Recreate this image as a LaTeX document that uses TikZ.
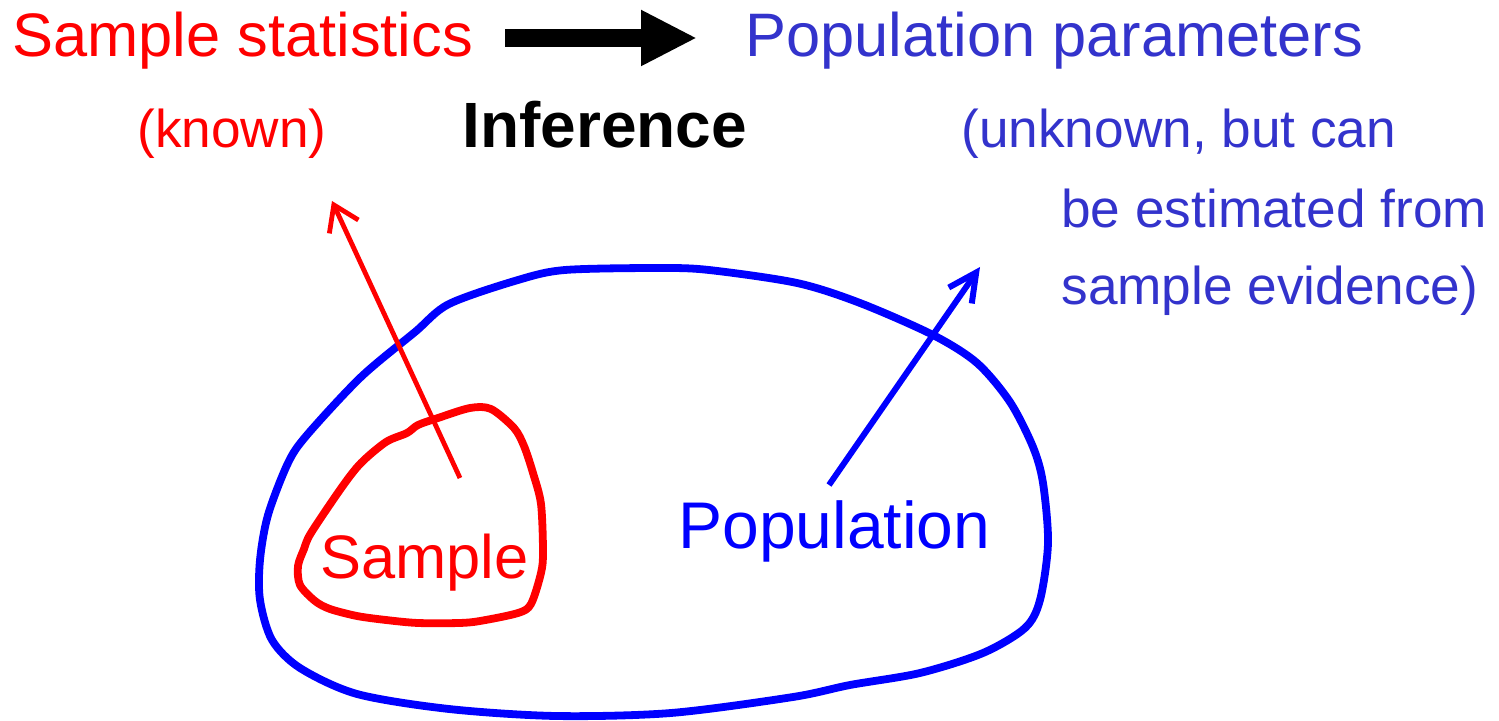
\documentclass[tikz,border=0pt]{standalone}
\usepackage{fontspec}
\setmainfont{Liberation Sans}
\usetikzlibrary{arrows.meta}
\definecolor{pred}{RGB}{255,0,0}
\definecolor{pblue}{RGB}{0,0,255}
\definecolor{tblue}{RGB}{51,51,204}
\tikzset{
  lbl/.style={inner sep=0pt, anchor=base west},
  big/.style={font=\fontsize{30.7}{36}\selectfont},
  mid/.style={font=\fontsize{26.6}{31}\selectfont},
  blobline/.style={line width=3.9pt, line join=round},
  redarrow/.style={draw=pred, line width=2.4pt, -{Straight Barb[length=12pt,width=16pt]}},
  bluearrow/.style={draw=pblue, line width=3pt, -{Straight Barb[length=14pt,width=14pt]}},
  fatarrow/.style={draw=black, line width=9pt, -{Triangle[length=28pt,width=26pt]}}
}
\begin{document}
\begin{tikzpicture}[x=0.5pt, y=-0.5pt]
\useasboundingbox (0,0) rectangle (1499,721);
% texts
\node[lbl, big, text=pred] (stats) at (12,57) {Sample statistics};
\node[lbl, big, text=tblue] (params) at (745,57) {Population parameters};
\node[lbl, mid, text=pred] (known) at (137,148) {(known)};
\node[lbl, font=\fontsize{32}{38}\selectfont\bfseries] (inf) at (462,148) {Inference};
\node[lbl, mid, text=tblue] (unk1) at (961,148) {(unknown, but can};
\node[lbl, mid, text=tblue] (unk2) at (1061,228) {be estimated from};
\node[lbl, mid, text=tblue] (unk3) at (1061,305) {sample evidence)};
% fat arrow
\coordinate (fa0) at (505,38);
\coordinate (fa1) at (697,38);
\draw[fatarrow] (fa0) -- (fa1);
% population blob
\draw[pblue, blobline] plot[smooth cycle, tension=0.5] coordinates {
(565,270) (659,268) (709,270) (797,283) (860,303) (933,335) (977,363) (1010,402) (1033,447) (1043,483) (1048,543) (1040,600) (1025,628) (983,653) (920,673) (850,685) (793,697) (671,713) (556,716) (449,709) (357,694) (300,668) (272,640) (260,600) (260,560) (268,515) (288,463) (307,435) (361,377) (415,332) (449,304) (518,280)};
% sample blob
\draw[pred, blobline] plot[smooth cycle, tension=0.5] coordinates {
(470,408) (491,409) (514,428) (524,446) (533,473) (541,504) (543,552) (541,573) (531,604) (518,613) (480,621) (459,623) (418,623) (386,620) (357,616) (330,609) (315,601) (300,585) (298,566) (304,549) (311,533) (342,487) (361,463) (386,442) (407,433) (418,425) (438,418)};
\node[lbl, big, text=pred] (samp) at (320,578) {Sample};
\node[lbl, font=\fontsize{33}{40}\selectfont, text=pblue] (pop) at (678,548) {Population};
% arrows
\coordinate (rs) at (460,478);
\coordinate (rt) at (332,201);
\draw[redarrow] (rs) -- (rt);
\coordinate (bs) at (829,485);
\coordinate (bt) at (980,267);
\draw[bluearrow] (bs) -- (bt);
\end{tikzpicture}
\end{document}
